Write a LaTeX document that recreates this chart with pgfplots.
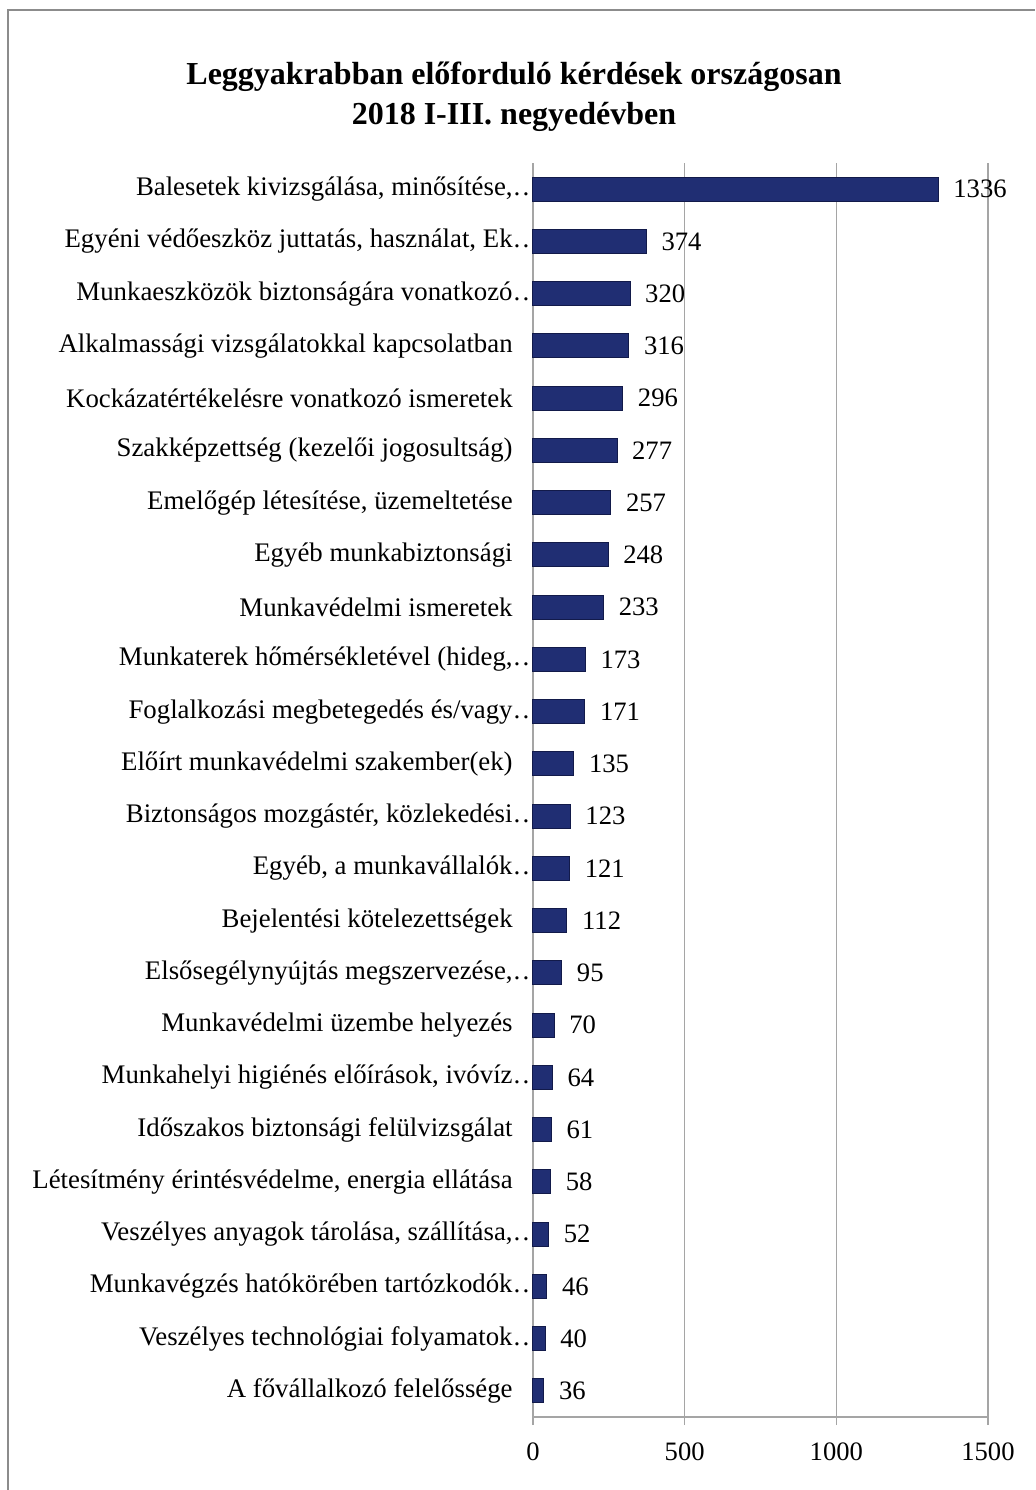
\documentclass[border=0pt]{standalone}
\usepackage{pgfplots}
\pgfplotsset{compat=1.18}
\usepackage{fontspec}
\setmainfont{Liberation Serif}

\definecolor{framegray}{RGB}{140,140,140}
\definecolor{gridgray}{RGB}{165,165,165}
\definecolor{barmid}{RGB}{32,46,115}
\definecolor{bardark}{RGB}{18,26,74}

\begin{document}
\begin{tikzpicture}
\useasboundingbox (0,0) rectangle (517.5pt,745pt);
% frame of the chart area (right and bottom edges are cut off)
\draw[framegray, line width=1.2pt] (4pt,0) -- (4pt,740pt) -- (517.5pt,740pt);
\node[font=\bfseries\fontsize{16}{20}\selectfont, align=center] at (257pt,696.5pt)
  {Leggyakrabban előforduló kérdések országosan\\2018 I-III. negyedévben};

\begin{axis}[
    at={(266.5pt,36.5pt)}, anchor=south west,
    scale only axis, width=227.5pt, height=627pt,
    xbar, bar width=12pt,
    xmin=0, xmax=1500,
    ymin=-0.5, ymax=23.5, y dir=reverse,
    axis lines*=left,
    axis line style={gridgray, line width=0.75pt},
    xmajorgrids, grid style={gridgray, line width=0.75pt},
    xtick={0,500,1000,1500},
    tick align=outside, major tick length=4pt,
    xtick style={gridgray, line width=0.75pt},
    ytick style={draw=none},
    ytick={0,...,23},
    yticklabels={
      {Balesetek kivizsgálása, minősítése,\rlap{…}},
      {Egyéni védőeszköz juttatás, használat, Ek\rlap{…}},
      {Munkaeszközök biztonságára vonatkozó\rlap{…}},
      {Alkalmassági vizsgálatokkal kapcsolatban},
      {Kockázatértékelésre vonatkozó ismeretek},
      {Szakképzettség (kezelői jogosultság)},
      {Emelőgép létesítése, üzemeltetése},
      {Egyéb munkabiztonsági},
      {Munkavédelmi ismeretek},
      {Munkaterek hőmérsékletével (hideg,\rlap{…}},
      {Foglalkozási megbetegedés és/vagy\rlap{…}},
      {Előírt munkavédelmi szakember(ek)},
      {Biztonságos mozgástér, közlekedési\rlap{…}},
      {Egyéb, a munkavállalók\rlap{…}},
      {Bejelentési kötelezettségek\ },
      {Elsősegélynyújtás megszervezése,\rlap{…}},
      {Munkavédelmi üzembe helyezés},
      {Munkahelyi higiénés előírások, ivóvíz\rlap{…}},
      {Időszakos biztonsági felülvizsgálat},
      {Létesítmény érintésvédelme, energia ellátása},
      {Veszélyes anyagok tárolása, szállítása,\rlap{…}},
      {Munkavégzés hatókörében tartózkodók\rlap{…}},
      {Veszélyes technológiai folyamatok\rlap{…}},
      {A fővállalkozó felelőssége}
    },
    yticklabel style={font=\fontsize{13.4}{15}\selectfont, inner sep=0pt, xshift=-6pt},
    xticklabel style={font=\fontsize{13.3}{15}\selectfont, yshift=-5.5pt},
    /pgf/number format/assume math mode=true,
    /pgf/number format/1000 sep={},
    nodes near coords,
    every node near coord/.append style={font=\fontsize{13.3}{15}\selectfont, anchor=west, xshift=4pt},
    clip=false,
]
\addplot[draw=bardark, line width=0.5pt, fill=barmid]
  coordinates {
    (1336,0) (374,1) (320,2) (316,3) (296,4) (277,5) (257,6) (248,7)
    (233,8) (173,9) (171,10) (135,11) (123,12) (121,13) (112,14) (95,15)
    (70,16) (64,17) (61,18) (58,19) (52,20) (46,21) (40,22) (36,23)
  };
\end{axis}
\end{tikzpicture}
\end{document}
